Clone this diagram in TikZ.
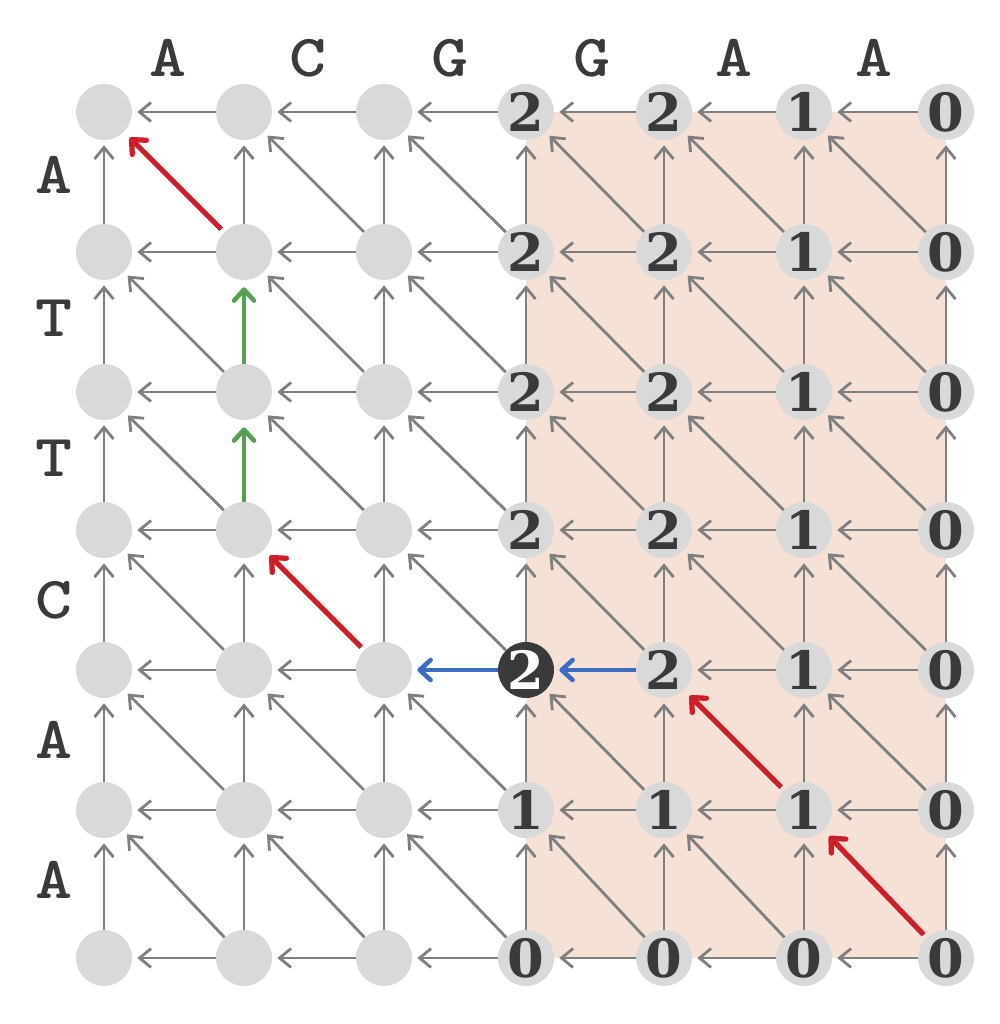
\documentclass[tikz,border=0pt]{standalone}
\usepackage{fontspec}
\usepackage{xcolor}
\usepackage{tikz}
\usetikzlibrary{arrows.meta}

\newfontfamily\scorefont{DejaVu Serif}
\newfontfamily\seqfont{lmmonolt10-bold.otf}[FakeStretch=1.18]

\definecolor{cellgray}{HTML}{D9D9D9}
\definecolor{edgegray}{HTML}{7F7F7F}
\definecolor{scoregray}{HTML}{3A3A3A}
\definecolor{bandpeach}{HTML}{F5E1D6}
\definecolor{pathred}{HTML}{CC1F27}
\definecolor{pathgreen}{HTML}{52A050}
\definecolor{pathblue}{HTML}{3D6CC6}

\begin{document}
\begin{tikzpicture}[x=0.02cm,y=-0.02cm]

\tikzstyle{cell} = [circle, fill=cellgray, minimum size=1.12cm, inner sep=0pt, text=scoregray, font=\scorefont\bfseries\fontsize{30}{30}\selectfont]
\tikzstyle{pick} = [cell, fill=scoregray, text=white]
\tikzstyle{seq} = [text=scoregray, font=\seqfont\fontsize{34}{34}\selectfont]
\tikzstyle{edge} = [draw=edgegray, line width=1.6pt, -{Straight Barb[length=2.3mm,width=3.8mm]}, shorten >=1mm]
\tikzstyle{trace} = [line width=3pt, -{Straight Barb[length=2.2mm,width=4mm,round]}, shorten <=0.8mm, shorten >=1.6mm]

\useasboundingbox (0,0) rectangle (1000,1024);

% region of the table that was filled in
\fill[bandpeach] (526,112) rectangle (946,958);

% sequences
\foreach \x/\b [count=\i] in {168/A,308/C,450/G,592/G,734/A,874/A}
  \node[seq] (top\i) at (\x,58) {\b};
\foreach \y/\b [count=\i] in {175/A,318/T,458/T,600/C,740/A,880/A}
  \node[seq] (side\i) at (54,\y) {\b};

% cells without scores
\foreach \y [count=\r from 0] in {112,252,392,530,670,810,958}
  \foreach \x [count=\c from 0] in {104,244,384}
    \node[cell] (n\c\r) at (\x,\y) {};

% scored cells
\foreach \y/\a/\b/\d/\e [count=\r from 0] in {112/2/2/1/0,252/2/2/1/0,392/2/2/1/0,530/2/2/1/0,670/2/2/1/0,810/1/1/1/0,958/0/0/0/0} {
  \ifnum\r=4 \def\cellstyle{pick}\else\def\cellstyle{cell}\fi
  \node[\cellstyle] (n3\r) at (526,\y) {\a};
  \node[cell] (n4\r) at (664,\y) {\b};
  \node[cell] (n5\r) at (804,\y) {\d};
  \node[cell] (n6\r) at (946,\y) {\e};
}

% gray edges
\foreach \c [evaluate=\c as \p using int(\c-1)] in {1,...,6} {
  \foreach \r in {0,...,6} {
    \pgfmathtruncatemacro\hit{(\r==4)&&(\c==3||\c==4)}
    \ifnum\hit=0 \draw[edge] (n\c\r) -- (n\p\r);\fi
  }
}
\foreach \c in {0,...,6} {
  \foreach \r [evaluate=\r as \q using int(\r-1)] in {1,...,6} {
    \pgfmathtruncatemacro\hit{(\c==1)&&(\r==2||\r==3)}
    \ifnum\hit=0 \draw[edge] (n\c\r) -- (n\c\q);\fi
  }
}
\foreach \c [evaluate=\c as \p using int(\c-1)] in {1,...,6} {
  \foreach \r [evaluate=\r as \q using int(\r-1)] in {1,...,6} {
    \pgfmathtruncatemacro\hit{(\c==1&&\r==1)||(\c==2&&\r==4)||(\c==5&&\r==5)||(\c==6&&\r==6)}
    \ifnum\hit=0 \draw[edge] (n\c\r) -- (n\p\q);\fi
  }
}

% traceback
\draw[trace, pathred] (n66) -- (n55);
\draw[trace, pathred] (n55) -- (n44);
\draw[trace, pathblue, line width=2.6pt, shorten <=0pt, shorten >=1mm] (n44) -- (n34);
\draw[trace, pathblue, line width=2.6pt, shorten <=0pt, shorten >=1mm] (n34) -- (n24);
\draw[trace, pathred] (n24) -- (n13);
\draw[trace, pathgreen, line width=2.6pt, shorten <=0pt, shorten >=1.4mm] (n13) -- (n12);
\draw[trace, pathgreen, line width=2.6pt, shorten <=0pt, shorten >=1.4mm] (n12) -- (n11);
\draw[trace, pathred] (n11) -- (n00);

\end{tikzpicture}
\end{document}
